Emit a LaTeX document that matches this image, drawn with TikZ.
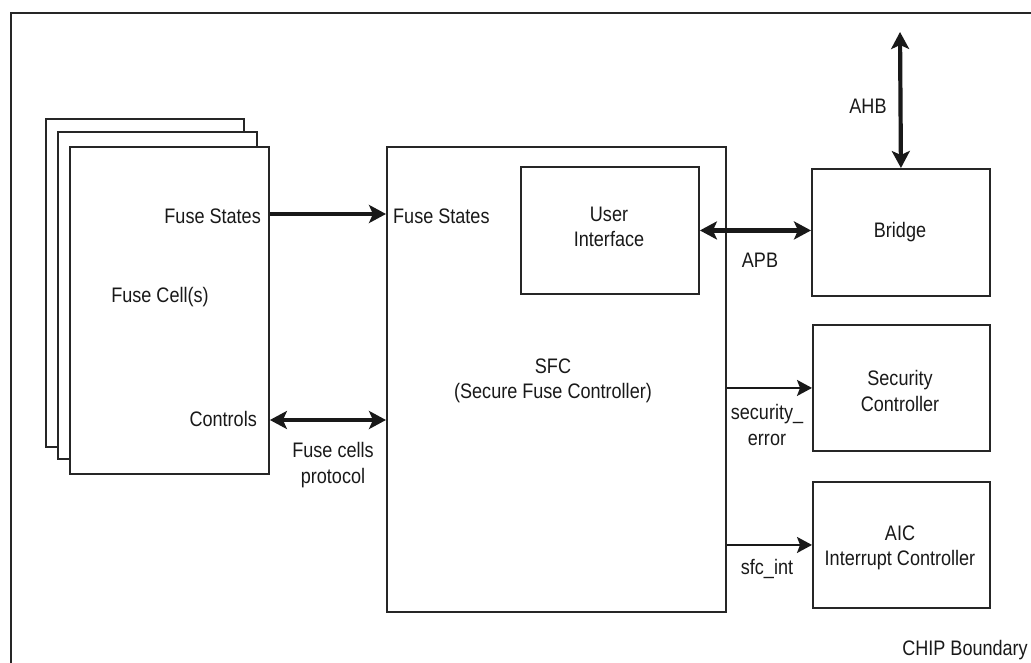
\documentclass[tikz,border=0pt]{standalone}
\usepackage{fontspec}
\setmainfont{Liberation Sans}[FakeStretch=0.86]
\usetikzlibrary{arrows.meta}
\tikzset{
  box/.style={draw=black!85, line width=1.9pt, fill=white, anchor=north west, inner sep=0pt},
  lbl/.style={font=\fontsize{21}{25.5}\selectfont, text=black!90, inner sep=0pt, align=center},
  bus/.style={draw=black!90, line width=4.2pt, {Stealth[length=17pt,width=18pt,inset=4pt]}-{Stealth[length=17pt,width=18pt,inset=4pt]}},
  busone/.style={draw=black!90, line width=4.2pt, -{Stealth[length=17pt,width=18pt,inset=4pt]}},
  sig/.style={draw=black!90, line width=1.9pt, -{Stealth[length=15pt,width=16pt,inset=3pt]}},
}
\begin{document}
\begin{tikzpicture}[x=1pt,y=-1pt]
\useasboundingbox (0,0) rectangle (1031,663);
\clip (0,0) rectangle (1031,663);
% chip boundary (extends beyond the visible area)
\node[box, fill=none, minimum width=1040pt, minimum height=680pt] (chip) at (10,12) {};
\node[lbl, anchor=east] (chiplbl) at (1028,650) {CHIP Boundary};
% fuse cell stack
\node[box, minimum width=198pt, minimum height=328pt] (fc1) at (45,118) {};
\node[box, minimum width=199pt, minimum height=327pt] (fc2) at (57,131) {};
\node[box, minimum width=199pt, minimum height=327pt] (fuse) at (69,146) {};
\node[lbl, anchor=east] (fsl) at (261,216) {Fuse States};
\node[lbl] (fcl) at (160,297) {Fuse Cell(s)};
\node[lbl, anchor=east] (ctl) at (257,419) {Controls};
% SFC
\node[box, minimum width=339pt, minimum height=465pt] (sfc) at (386,146) {};
\node[lbl, anchor=west] (fsr) at (393,216) {Fuse States};
\node[lbl] (sfcl) at (553,381) {SFC\\(Secure Fuse Controller)};
\node[box, minimum width=178pt, minimum height=127pt] (ui) at (520,166) {};
\node[lbl] (uil) at (609,227) {User\\Interface};
% right side blocks
\node[box, minimum width=178pt, minimum height=127pt] (bridge) at (811,168) {};
\node[lbl] (brl) at (900,232) {Bridge};
\node[box, minimum width=177pt, minimum height=126pt] (sec) at (812,324) {};
\node[lbl] (secl) at (900,391) {Security\\Controller};
\node[box, minimum width=177pt, minimum height=126pt] (aic) at (812,481) {};
\node[lbl] (aicl) at (900,548) {AIC\\Interrupt Controller};
% connectors
\coordinate (ahbtop) at (900,32);
\draw[bus] (ahbtop) -- (bridge.north);
\node[lbl] (ahbl) at (868,106) {AHB};
\draw[bus] (ui.east) -- (ui.east -| bridge.west);
\node[lbl] (apbl) at (760,260) {APB};
\draw[busone] (fuse.east |- 0,214) -- (sfc.west |- 0,214);
\draw[bus] (fuse.east |- 0,420) -- (sfc.west |- 0,420);
\node[lbl] (fcpl) at (333,465) {Fuse cells\\protocol};
\draw[sig] (sfc.east |- sec.west) -- (sec.west);
\node[lbl] (secerr) at (767,425) {security\_\\error};
\draw[sig] (sfc.east |- aic.west) -- (aic.west);
\node[lbl] (sfcint) at (767,569) {sfc\_int};
\end{tikzpicture}
\end{document}
